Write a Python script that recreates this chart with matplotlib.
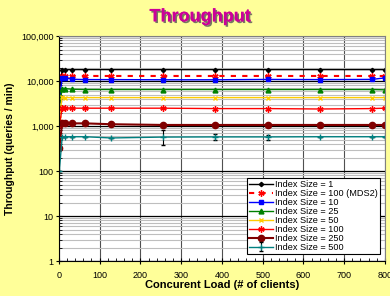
import numpy as np
import matplotlib
matplotlib.use('Agg')
import matplotlib.pyplot as plt
import matplotlib.patheffects as pe
from matplotlib.ticker import FuncFormatter, LogLocator, MultipleLocator

plt.rcParams['font.family'] = ['Liberation Sans', 'DejaVu Sans']

# concurrent load (# of clients)
load = [1, 8, 16, 32, 64, 128, 256, 384, 512, 640, 768, 800]

# throughput (queries / min) per index size
size1 = [5700, 17500, 18000, 18000, 18000, 18000, 18000, 18000, 18000, 18000, 18000, 18000]
size100_mds2 = [12000, 13000, 13000, 13000, 13000, 13000, 13000, 13000, 13000, 13000, 13000, 13000]
size10 = [3800, 11500, 11800, 11000, 10800, 10800, 10700, 10700, 10900, 10800, 10900, 11800]
size25 = [2600, 6800, 6800, 6600, 6500, 6500, 6500, 6500, 6500, 6500, 6500, 6400]
size50 = [1500, 4400, 4300, 4300, 4300, 4300, 4300, 4300, 4300, 4300, 4300, 4300]
size100 = [1000, 2500, 2500, 2500, 2500, 2500, 2500, 2450, 2450, 2400, 2450, 2500]
size250 = [330, 1150, 1150, 1150, 1150, 1100, 1060, 1060, 1060, 1060, 1060, 1060]
size500 = [100, 560, 580, 580, 580, 545, 570, 575, 575, 580, 580, 580]
# error bar extents for the index size 500 series (low, high)
err500_lo = [0, 0, 0, 0, 0, 0, 190, 85, 95, 0, 0, 0]
err500_hi = [0, 0, 0, 0, 0, 0, 230, 95, 75, 0, 0, 0]

labels = ['Index Size = 1', 'Index Size = 100 (MDS2)', 'Index Size = 10',
          'Index Size = 25', 'Index Size = 50', 'Index Size = 100',
          'Index Size = 250', 'Index Size = 500']

fig = plt.figure(figsize=(3.9, 2.96), dpi=100, facecolor='#FFFF99')
ax = fig.add_axes([0.151, 0.118, 0.836, 0.760])
ax.set_facecolor('white')

ax.plot(load, size1, color='black', marker='D', ms=2.2, lw=1.0, label=labels[0])
ax.plot(load, size100_mds2, color='#FF0000', ls=(0, (2.5, 3)), marker=(6, 2, 0), ms=4.5,
        lw=1.5, label=labels[1])
ax.plot(load, size10, color='#0000FF', marker='s', ms=3.5, lw=1.0, label=labels[2])
ax.plot(load, size25, color='#008000', marker='^', ms=3.5, lw=1.0, label=labels[3])
ax.plot(load, size50, color='#FFCC00', marker='x', ms=3.5, lw=1.0, label=labels[4])
ax.plot(load, size100, color='#FF0000', marker=(6, 2, 0), ms=4.5, lw=1.0, label=labels[5])
ax.plot(load, size250, color='#800000', marker='o', ms=4.5, lw=1.5, label=labels[6])
ax.errorbar(load, size500, yerr=[err500_lo, err500_hi], color='#008080', marker='+',
            ms=4.5, lw=1.0, ecolor='black', elinewidth=0.8, capsize=1.5, label=labels[7])

ax.set_yscale('log')
ax.set_xlim(0, 800)
ax.set_ylim(1, 100000)
ax.xaxis.set_major_locator(MultipleLocator(100))
ax.xaxis.set_minor_locator(MultipleLocator(20))
ax.yaxis.set_major_locator(LogLocator(base=10))
ax.yaxis.set_minor_locator(LogLocator(base=10, subs=np.arange(2, 10)))
ax.yaxis.set_major_formatter(FuncFormatter(lambda v, p: '{:,.0f}'.format(v)))

ax.grid(True, which='major', axis='x', color='#505050', lw=0.8)
ax.grid(True, which='major', axis='y', color='black', lw=0.9)
ax.grid(True, which='minor', axis='y', color='#BEBEBE', lw=0.8)
ax.set_axisbelow(True)

ax.tick_params(which='major', direction='inout', length=4, width=0.8, labelsize=6.5, pad=2)
ax.tick_params(which='minor', direction='in', length=2, width=0.6)
ax.tick_params(axis='x', pad=5)
for s in ['top', 'right']:
    ax.spines[s].set_color('#808080')
for s in ['left', 'bottom']:
    ax.spines[s].set_color('black')

ax.set_xlabel('Concurent Load (# of clients)', fontsize=8, fontweight='bold', labelpad=0)
ax.set_ylabel('Throughput (queries / min)', fontsize=7.5, fontweight='bold', labelpad=4)

fig.text(0.513, 0.943, 'Throughput', ha='center', va='center', fontsize=13,
         fontweight='bold', color='#CC0099',
         path_effects=[pe.withSimplePatchShadow(offset=(1.2, -1.2), shadow_rgbFace='#555555', alpha=0.8),
                       pe.Normal()])

leg = ax.legend(loc='lower right', bbox_to_anchor=(0.984, 0.03), fontsize=6.6,
                frameon=True, fancybox=False, edgecolor='black', framealpha=1,
                handlelength=2.6, handletextpad=0.2, labelspacing=0.0,
                borderpad=0.25, borderaxespad=0)
leg.get_frame().set_linewidth(0.8)

fig.savefig('out.png', dpi=100, facecolor=fig.get_facecolor())
